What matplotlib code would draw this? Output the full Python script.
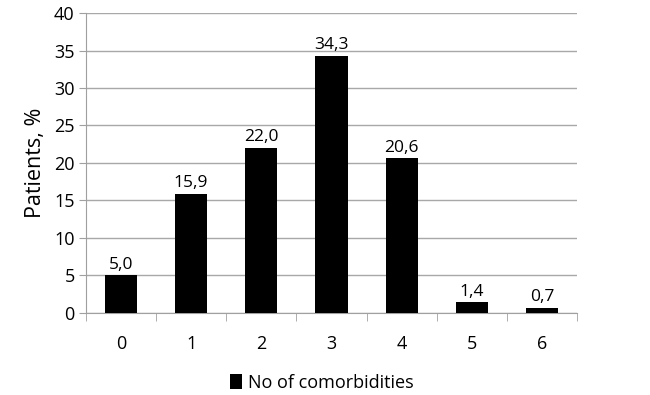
import matplotlib
import matplotlib.pyplot as plt

matplotlib.use('Agg')

categories = ['0', '1', '2', '3', '4', '5', '6']
values = [5.0, 15.9, 22.0, 34.3, 20.6, 1.4, 0.7]
y_ticks = [0, 5, 10, 15, 20, 25, 30, 35, 40]

plt.rcParams['font.family'] = ['Open Sans', 'DejaVu Sans']

fig = plt.figure(figsize=(6.5, 3.95), dpi=100)
ax = fig.add_axes([0.132, 0.208, 0.756, 0.759])

xs = list(range(len(categories)))
bars = ax.bar(xs, values, width=0.46, color='black', label='No of comorbidities', zorder=3)

for x, v in zip(xs, values):
    ax.annotate(f'{v:.1f}'.replace('.', ','), xy=(x, v), xytext=(0, 2), textcoords='offset points',
                ha='center', va='bottom', fontsize=12.5)

ax.set_xlim(-0.5, len(categories) - 0.5)
ax.set_ylim(0, 40)
ax.set_yticks(y_ticks)
ax.tick_params(axis='y', labelsize=13, length=5, color='#a0a0a0', pad=3)
ax.set_xticks(xs)
ax.set_xticklabels(categories)
ax.tick_params(axis='x', labelsize=13, length=0, pad=16)
# category separators on x axis
ax.set_xticks([x - 0.5 for x in xs] + [len(categories) - 0.5], minor=True)
ax.tick_params(axis='x', which='minor', length=6, color='#a0a0a0')

ax.grid(axis='y', color='#a8a8a8', linewidth=1, zorder=0)
for side in ['top', 'right']:
    ax.spines[side].set_visible(False)
ax.spines['left'].set_color('#a0a0a0')
ax.spines['bottom'].set_color('#a0a0a0')

ax.set_ylabel('Patients, %', fontsize=15.5, labelpad=6)

ax.legend(loc='upper center', bbox_to_anchor=(0.48, -0.15), frameon=False, fontsize=13,
          handlelength=0.7, handleheight=0.9, handletextpad=0.3)

fig.savefig('out.png', dpi=100)
